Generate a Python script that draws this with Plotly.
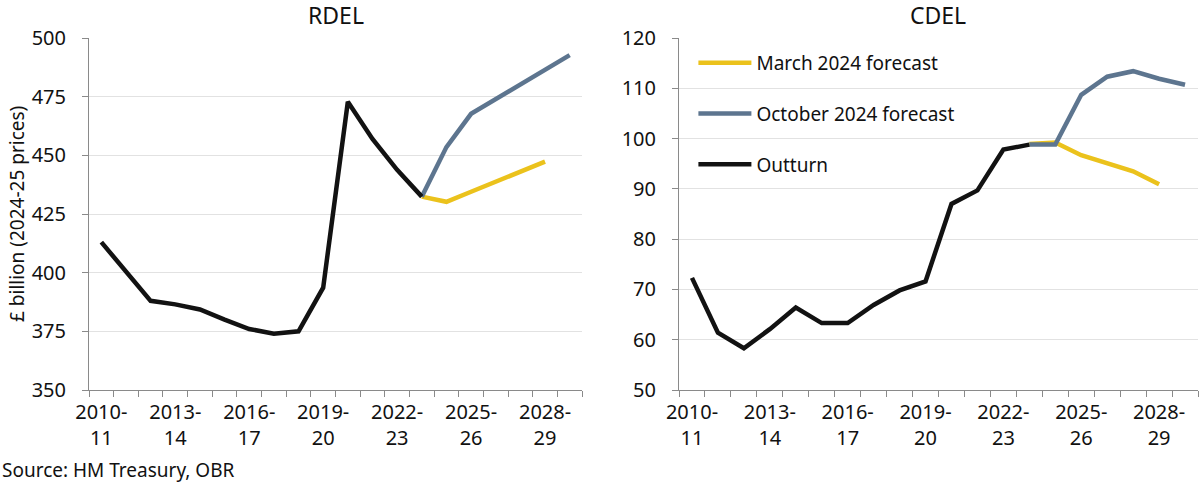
import plotly.graph_objects as go

# ---- data ----
years = ["2010-11", "2011-12", "2012-13", "2013-14", "2014-15", "2015-16", "2016-17",
         "2017-18", "2018-19", "2019-20", "2020-21", "2021-22", "2022-23", "2023-24",
         "2024-25", "2025-26", "2026-27", "2027-28", "2028-29", "2029-30"]
tick_labels = ["2010-<br>11", "", "", "2013-<br>14", "", "", "2016-<br>17", "", "",
               "2019-<br>20", "", "", "2022-<br>23", "", "", "2025-<br>26", "", "",
               "2028-<br>29", ""]

outturn_years = years[0:14]
march_years = years[13:19]
october_years = years[13:20]

rdel_outturn = [413.0, 400.5, 388.0, 386.5, 384.3, 380.0, 376.0, 374.0, 375.0,
                393.6, 472.8, 457.0, 443.8, 432.4]
rdel_march = [432.4, 430.2, 434.5, 438.8, 443.0, 447.3]
rdel_october = [432.4, 453.5, 467.7, 474.0, 480.2, 486.5, 492.7]

cdel_outturn = [72.3, 61.4, 58.3, 62.1, 66.4, 63.3, 63.3, 66.9, 69.8, 71.6,
                87.0, 89.7, 97.8, 98.8]
cdel_march = [98.9, 99.2, 96.7, 95.2, 93.5, 90.9]
cdel_october = [98.8, 98.8, 108.7, 112.3, 113.4, 111.9, 110.7]

# ---- style ----
FONT = "Noto Sans"
YELLOW = "#EBC21C"
BLUE = "#5D758F"
BLACK = "#121212"
W, H = 1200, 485
LW = 4.5

fig = go.Figure()

def add_panel(xa, ya, march, october, outturn, show):
    fig.add_trace(go.Scatter(x=march_years, y=march, mode="lines", name="March 2024 forecast",
                             line=dict(color=YELLOW, width=LW), xaxis=xa, yaxis=ya,
                             showlegend=show, legendgroup="a"))
    fig.add_trace(go.Scatter(x=october_years, y=october, mode="lines", name="October 2024 forecast",
                             line=dict(color=BLUE, width=LW), xaxis=xa, yaxis=ya,
                             showlegend=show, legendgroup="b"))
    fig.add_trace(go.Scatter(x=outturn_years, y=outturn, mode="lines", name="Outturn",
                             line=dict(color=BLACK, width=LW), xaxis=xa, yaxis=ya,
                             showlegend=show, legendgroup="c"))

add_panel("x", "y", rdel_march, rdel_october, rdel_outturn, False)
add_panel("x2", "y2", cdel_march, cdel_october, cdel_outturn, True)

x1d = [89 / W, 582 / W]
x2d = [679 / W, 1198 / W]
yd = [1 - 390 / H, 1 - 38 / H]

xcommon = dict(type="category", categoryorder="array", categoryarray=years,
               range=[-0.5, 19.5], tickmode="array", tickvals=years, ticktext=tick_labels,
               tickson="boundaries", ticks="outside", ticklen=6, tickcolor="#8a8a8a",
               showline=True, linecolor="#8a8a8a", linewidth=1, showgrid=False,
               tickfont=dict(family=FONT, size=20, color="#111"), automargin=False,
               tickangle=0, fixedrange=True, ticklabelstandoff=4)
ycommon = dict(showline=True, linecolor="#8a8a8a", linewidth=1, ticks="outside",
               ticklen=6, tickcolor="#8a8a8a", showgrid=True, gridcolor="#e2e2e2",
               gridwidth=1, zeroline=False, tickfont=dict(family=FONT, size=20, color="#111"),
               automargin=False, ticklabelstandoff=12, fixedrange=True)

fig.update_layout(
    width=W, height=H, autosize=False,
    margin=dict(l=0, r=0, t=0, b=0),
    paper_bgcolor="white", plot_bgcolor="white",
    font=dict(family=FONT, color="#111"),
    xaxis=dict(domain=x1d, anchor="y", **xcommon),
    xaxis2=dict(domain=x2d, anchor="y2", **xcommon),
    yaxis=dict(domain=yd, anchor="x", range=[350, 500], dtick=25, tick0=350, **ycommon),
    yaxis2=dict(domain=yd, anchor="x2", range=[50, 120], dtick=10, tick0=50, **ycommon),
    legend=dict(x=x2d[0] + 0.012, y=1 - 44 / H, xanchor="left", yanchor="top",
                bgcolor="rgba(0,0,0,0)", font=dict(family=FONT, size=19, color="#111"),
                traceorder="grouped", tracegroupgap=23, itemwidth=53),
    annotations=[
        dict(text="RDEL", x=(x1d[0] + x1d[1]) / 2, y=1 - 15 / H, xref="paper", yref="paper",
             xanchor="center", yanchor="middle", showarrow=False,
             font=dict(family=FONT, size=23, color="#111")),
        dict(text="CDEL", x=(x2d[0] + x2d[1]) / 2, y=1 - 15 / H, xref="paper", yref="paper",
             xanchor="center", yanchor="middle", showarrow=False,
             font=dict(family=FONT, size=23, color="#111")),
        dict(text="£ billion (2024-25 prices)", x=17 / W, y=(yd[0] + yd[1]) / 2,
             xref="paper", yref="paper", textangle=-90, showarrow=False,
             xanchor="center", yanchor="middle",
             font=dict(family=FONT, size=19, color="#111")),
        dict(text="Source: HM Treasury, OBR", x=0, y=1 - 470 / H, xref="paper", yref="paper",
             xanchor="left", yanchor="middle", showarrow=False,
             font=dict(family=FONT, size=19, color="#111")),
    ],
)

fig.write_html("out.html", config={"displayModeBar": False},
               post_script="document.body.style.margin='0';document.body.style.overflow='hidden';")
